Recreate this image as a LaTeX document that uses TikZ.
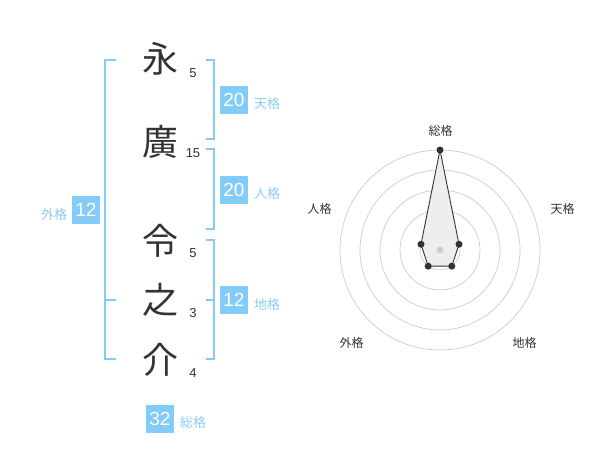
\documentclass[tikz,border=0pt]{standalone}
\usepackage{fontspec}
\setmainfont{Liberation Sans}
\newfontfamily\cjk{Noto Sans CJK JP}
\definecolor{boxblue}{RGB}{130,204,247}
\definecolor{lblblue}{RGB}{140,206,245}
\definecolor{inkdark}{RGB}{51,51,51}
\definecolor{gridgray}{RGB}{204,204,204}
\definecolor{polyfill}{RGB}{238,238,238}
\tikzset{
  kanji/.style={inner sep=0pt, text=inkdark, font=\cjk\fontsize{36}{36}\selectfont},
  stroke/.style={inner sep=0pt, text=inkdark, font=\fontsize{13}{13}\selectfont},
  bracket/.style={draw=boxblue, line width=2pt},
  valbox/.style={fill=boxblue, text=white, minimum width=28pt, minimum height=28pt, inner sep=0pt, font=\fontsize{19}{19}\selectfont},
  lbl/.style={inner sep=0pt, anchor=west, text=lblblue, font=\cjk\fontsize{13}{13}\selectfont},
  axislbl/.style={inner sep=0pt, text=inkdark, font=\cjk\fontsize{12}{12}\selectfont},
  ring/.style={draw=gridgray, line width=0.7pt},
  vtx/.style={circle, fill=inkdark, inner sep=0pt, minimum size=7pt},
}
\begin{document}
\begin{tikzpicture}[x=1pt,y=-1pt]
\useasboundingbox[fill=white] (0,0) rectangle (600,470);
% characters
\node[kanji] (c1) at (160,59) {永};
\node[kanji] (c2) at (160,142) {廣};
\node[kanji] (c3) at (160,241) {令};
\node[kanji] (c4) at (160,300) {之};
\node[kanji] (c5) at (160,360) {介};
% stroke counts
\node[stroke] (s1) at (193,73) {5};
\node[stroke] (s2) at (193,153) {15};
\node[stroke] (s3) at (193,253) {5};
\node[stroke] (s4) at (193,313) {3};
\node[stroke] (s5) at (193,373) {4};
% brackets
\draw[bracket] (116,60) -- (105,60) -- (105,359) -- (116,359);
\draw[bracket] (105,300) -- (116,300);
\draw[bracket] (206,60) -- (214,60) -- (214,139) -- (206,139);
\draw[bracket] (206,149) -- (214,149) -- (214,229) -- (206,229);
\draw[bracket] (206,240) -- (214,240) -- (214,359) -- (206,359);
\draw[bracket] (206,300) -- (214,300);
% value boxes
\node[valbox] (ten) at (234,100) {20};
\node[lbl] (tenl) at (254,104) {天格};
\node[valbox] (jin) at (234,190) {20};
\node[lbl] (jinl) at (254,194) {人格};
\node[valbox] (chi) at (234,300) {12};
\node[lbl] (chil) at (254,305) {地格};
\node[valbox] (gai) at (86,210) {12};
\node[lbl] (gail) at (41,214.5) {外格};
\node[valbox] (sou) at (160,419) {32};
\node[lbl] (soul) at (180,422.5) {総格};
% radar chart
\coordinate (rc) at (440,250);
\foreach \r in {20,40,60,80,100} \draw[ring] (rc) circle (\r pt);
\coordinate (p1) at (440,150);
\coordinate (p2) at (459,244.3);
\coordinate (p3) at (451.8,266.2);
\coordinate (p4) at (428.2,266.2);
\coordinate (p5) at (421,244.3);
\draw[fill=polyfill, draw=inkdark, line width=0.9pt, line join=round] (p1) -- (p2) -- (p3) -- (p4) -- (p5) -- cycle;
\foreach \p in {p1,p2,p3,p4,p5} \node[vtx] at (\p) {};
\node[circle, fill=gridgray, inner sep=0pt, minimum size=7pt] (ctr) at (rc) {};
\node[axislbl] (a1) at (440.5,130.5) {総格};
\node[axislbl] (a2) at (562.5,208.5) {天格};
\node[axislbl] (a3) at (524.5,342.5) {地格};
\node[axislbl] (a4) at (351.5,342.5) {外格};
\node[axislbl] (a5) at (319.5,208.5) {人格};
\end{tikzpicture}
\end{document}
